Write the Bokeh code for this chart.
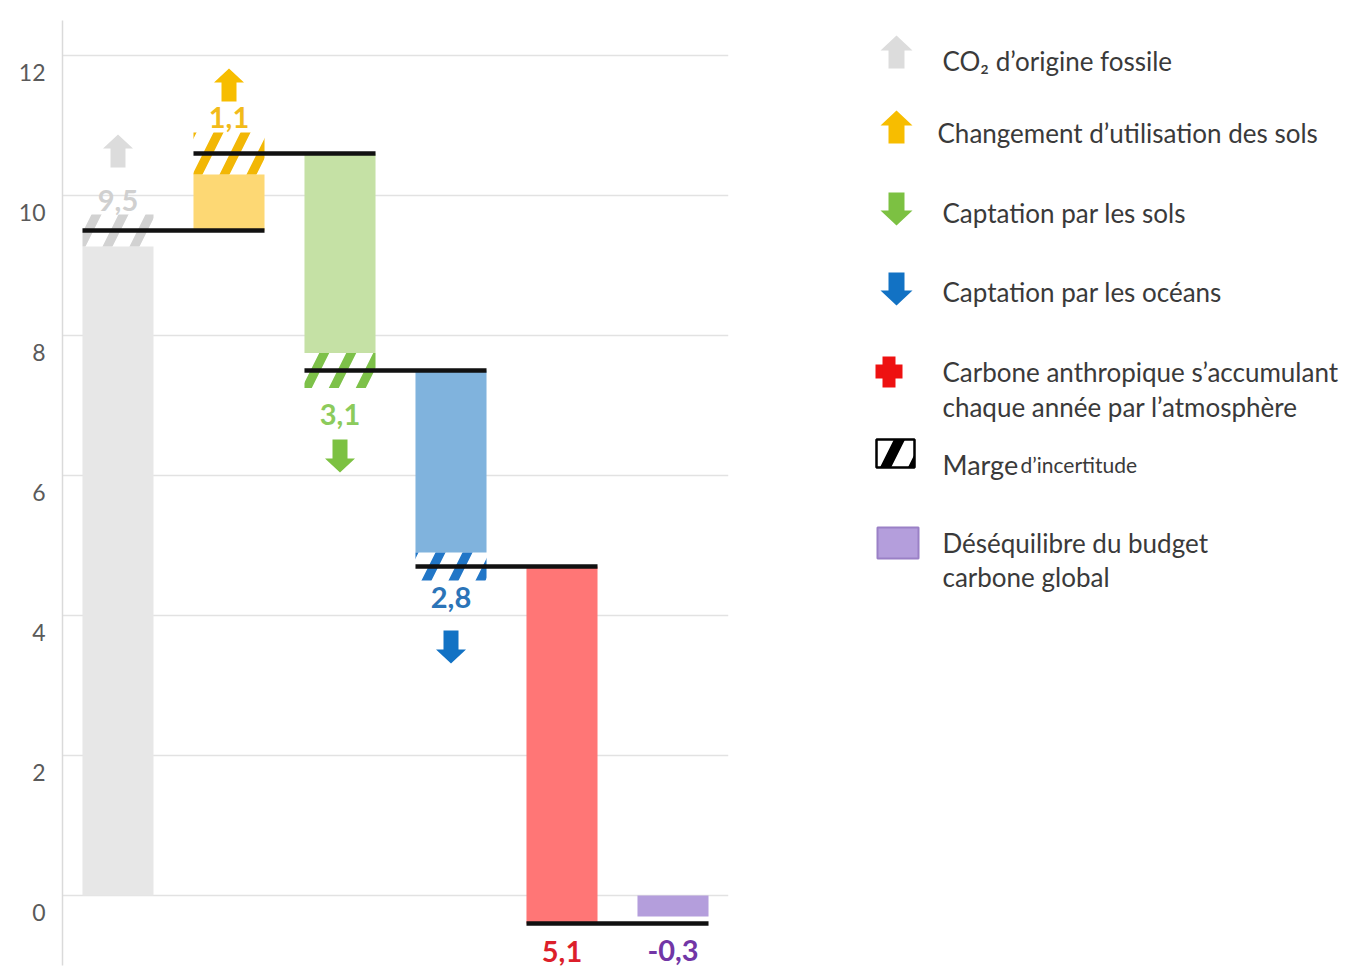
from bokeh.plotting import figure
from bokeh.layouts import row
from bokeh.models import Range1d, FixedTicker, ColumnDataSource
from bokeh.core.properties import value
from bokeh.embed import file_html
from bokeh.resources import INLINE

# ---- Global carbon budget (GtC per year) ----
components = ["fossile", "usage_sols", "puits_sols", "puits_oceans", "atmosphere", "desequilibre"]
flux = [9.5, 1.1, 3.1, 2.8, 5.1, -0.3]
direction = [1, 1, -1, -1, -1, 0]          # +1 source, -1 sink, 0 budget imbalance
uncertainty = [0.23, 0.3, 0.25, 0.2, 0.0, 0.0]
y_ticks = [0, 2, 4, 6, 8, 10, 12]
y_tick_labels = ["0", "2", "4", "6", "8", "10", "12"]
legend_labels = [
    "CO₂ d’origine fossile",
    "Changement d’utilisation des sols",
    "Captation par les sols",
    "Captation par les océans",
    "Carbone anthropique s’accumulant",
    "chaque année par l’atmosphère",
    "Marge",
    "d’incertitude",
    "Déséquilibre du budget",
    "carbone global",
]

# ---- styling ----
FONT = "Lato"
bar_colors = ["#e7e7e7", "#fdd874", "#c5e1a5", "#80b3dd", "#ff7676", "#b49edc"]
hatch_colors = ["#d2d2d2", "#f2b705", "#7dc149", "#2176c7"]
arrow_colors = ["#dcdcdc", "#f7bd00", "#7cc142", "#1272c4"]
label_colors = ["#d0d0d0", "#f2bb1a", "#8ccb5c", "#2b74b8", "#dc1f2b", "#7236a6"]
label_offset_px = [-30, -36, 44, 31, 28, 34]   # screen offset of value labels from bar end
arrow_gap_px = [33, 16, 25, 33]                # distance from label centre to arrow
BAR_W = 0.64
TICK_LABEL_DROP_PX = 17                        # tick labels sit a little below their grid line

X0, X1 = -0.5, 5.5
Y0, Y1 = -1.0, 12.5
FRAME_W, FRAME_H = 666, 945
BORDER_TOP, BORDER_BOTTOM = 20, 3
PX_X = FRAME_W / (X1 - X0)
PX_Y = FRAME_H / (Y1 - Y0)

# ---- waterfall levels ----
starts, ends = [], []
level = 0.0
for i in range(5):
    starts.append(level)
    level = round(level + direction[i] * flux[i], 2)
    ends.append(level)
starts.append(0.0)
ends.append(flux[5])

# solid parts of bars stop where the uncertainty band begins
bar_left, bar_right, bar_bottom, bar_top = [], [], [], []
for i in range(6):
    s, e = starts[i], ends[i]
    step = 1 if e >= s else -1
    solid_end = e - step * uncertainty[i]
    bar_left.append(i - BAR_W / 2)
    bar_right.append(i + BAR_W / 2)
    bar_bottom.append(min(s, solid_end))
    bar_top.append(max(s, solid_end))

p = figure(width=62 + FRAME_W + 12, height=BORDER_TOP + FRAME_H + BORDER_BOTTOM,
           x_range=Range1d(X0, X1), y_range=Range1d(Y0, Y1),
           output_backend="svg", toolbar_location=None,
           min_border_left=62, min_border_right=12,
           min_border_top=BORDER_TOP, min_border_bottom=BORDER_BOTTOM)
p.outline_line_color = None
p.xaxis.visible = False
p.xgrid.visible = False
p.ygrid.ticker = FixedTicker(ticks=y_ticks)
p.ygrid.grid_line_color = "#e2e2e2"
p.ygrid.grid_line_width = 1.5

drop = round(TICK_LABEL_DROP_PX / PX_Y, 4)
label_ticks = [round(t - drop, 4) for t in y_ticks]
yax = p.yaxis[0]
yax.ticker = FixedTicker(ticks=label_ticks)
yax.major_label_overrides = {t: l for t, l in zip(label_ticks, y_tick_labels)}
yax.major_label_text_font = FONT
yax.major_label_text_font_size = "23px"
yax.major_label_text_color = "#5a5a5a"
yax.major_label_standoff = 17
yax.major_tick_out = 0
yax.major_tick_in = 0
yax.major_tick_line_color = None
yax.minor_tick_line_color = None
yax.axis_line_color = "#dadada"
yax.axis_line_width = 1.5

# bars
p.quad(left=bar_left, right=bar_right, bottom=bar_bottom, top=bar_top,
       fill_color=bar_colors, line_color=None)

# uncertainty bands (hatched)
n_unc = 4
p.quad(left=bar_left[:n_unc], right=bar_right[:n_unc],
       bottom=[ends[i] - uncertainty[i] for i in range(n_unc)],
       top=[ends[i] + uncertainty[i] for i in range(n_unc)],
       fill_color=None, line_color=None,
       hatch_pattern="/", hatch_color=hatch_colors,
       hatch_weight=9, hatch_scale=54)

# connector lines between successive bars
p.segment(x0=[i - BAR_W / 2 for i in range(5)], x1=[i + 1 + BAR_W / 2 for i in range(5)],
          y0=ends[:5], y1=ends[:5], line_color="#111111", line_width=4.5)

# value labels
label_text = [f"{v:.1f}".replace(".", ",") for v in flux]
lab_src = ColumnDataSource(dict(x=list(range(6)), y=ends, text=label_text,
                                color=label_colors, off=label_offset_px))
p.text(x="x", y="y", text="text", source=lab_src, y_offset="off",
       text_color="color", text_font=value(FONT), text_font_style="bold",
       text_font_size="29px", text_align="center", text_baseline="middle")


def arrow_shape(cx, base, up, sx, sy, hw=30, hh=14, sw=15, sh=19):
    """Block arrow; base is the shaft end, sizes in pixels, sx/sy = px per unit."""
    d = 1 if up else -1
    pts = [(-sw / 2, 0), (-sw / 2, sh), (-hw / 2, sh), (0, sh + hh),
           (hw / 2, sh), (sw / 2, sh), (sw / 2, 0)]
    return ([cx + px / sx for px, _ in pts], [base + d * py / sy for _, py in pts])


axs, ays = [], []
for i in range(4):
    up = direction[i] > 0
    label_y = ends[i] - label_offset_px[i] / PX_Y
    base = label_y + (arrow_gap_px[i] / PX_Y) * (1 if up else -1)
    hx, hy = arrow_shape(i, base, up, PX_X, PX_Y)
    axs.append(hx)
    ays.append(hy)
p.patches(xs=axs, ys=ays, fill_color=arrow_colors, line_color=None)

# ---- legend panel, laid out in page pixels ----
PAGE_W = 1346
lg = figure(width=PAGE_W - p.width, height=p.height,
            x_range=Range1d(p.width, PAGE_W),
            y_range=Range1d(BORDER_TOP + FRAME_H, BORDER_TOP),
            output_backend="svg", toolbar_location=None,
            min_border_left=0, min_border_right=0,
            min_border_top=BORDER_TOP, min_border_bottom=BORDER_BOTTOM)
lg.outline_line_color = None
lg.axis.visible = False
lg.grid.visible = False

leg_arrow_tops = [35, 110, 192, 272]
lxs, lys = [], []
for i in range(4):
    up = direction[i] > 0
    total = 15 + 18
    base = leg_arrow_tops[i] + total if up else leg_arrow_tops[i]
    # legend y grows downward, so invert the direction
    hx, hy = arrow_shape(896, base, not up, 1, 1, hw=32, hh=15, sw=16, sh=18)
    lxs.append(hx)
    lys.append(hy)
lg.patches(xs=lxs, ys=lys, fill_color=arrow_colors, line_color=None)

# red cross
lg.quad(left=[875, 882], right=[902, 895], top=[364, 356], bottom=[378, 387],
        fill_color="#ee1111", line_color=None)
# hatched uncertainty swatch
lg.quad(left=876, right=914, top=439, bottom=467, fill_color="white",
        line_color="#000000", line_width=2.5,
        hatch_pattern="/", hatch_color="#000000", hatch_weight=10, hatch_scale=56)
# imbalance swatch
lg.quad(left=877, right=918, top=527, bottom=558, fill_color=bar_colors[5],
        line_color="#9a80c6", line_width=2)

txt_x = [942, 937, 942, 942, 942, 942, 942, 942]
txt_y = [60, 132, 212, 291, 371, 406, 542, 576]
txt = [legend_labels[i] for i in (0, 1, 2, 3, 4, 5, 8, 9)]
lg.text(x=txt_x, y=txt_y, text=txt, text_font=value(FONT), text_font_size="26px",
        text_color="#3a3a3a", text_align="left", text_baseline="middle")
lg.text(x=[942], y=[464], text=[legend_labels[6]], text_font=value(FONT),
        text_font_size="27px", text_color="#3a3a3a", text_align="left",
        text_baseline="alphabetic")
lg.text(x=[1020], y=[464], text=[legend_labels[7]], text_font=value(FONT),
        text_font_size="21px", text_color="#3a3a3a", text_align="left",
        text_baseline="alphabetic")

layout = row(p, lg)
open("out.html", "w").write(file_html(layout, INLINE))
